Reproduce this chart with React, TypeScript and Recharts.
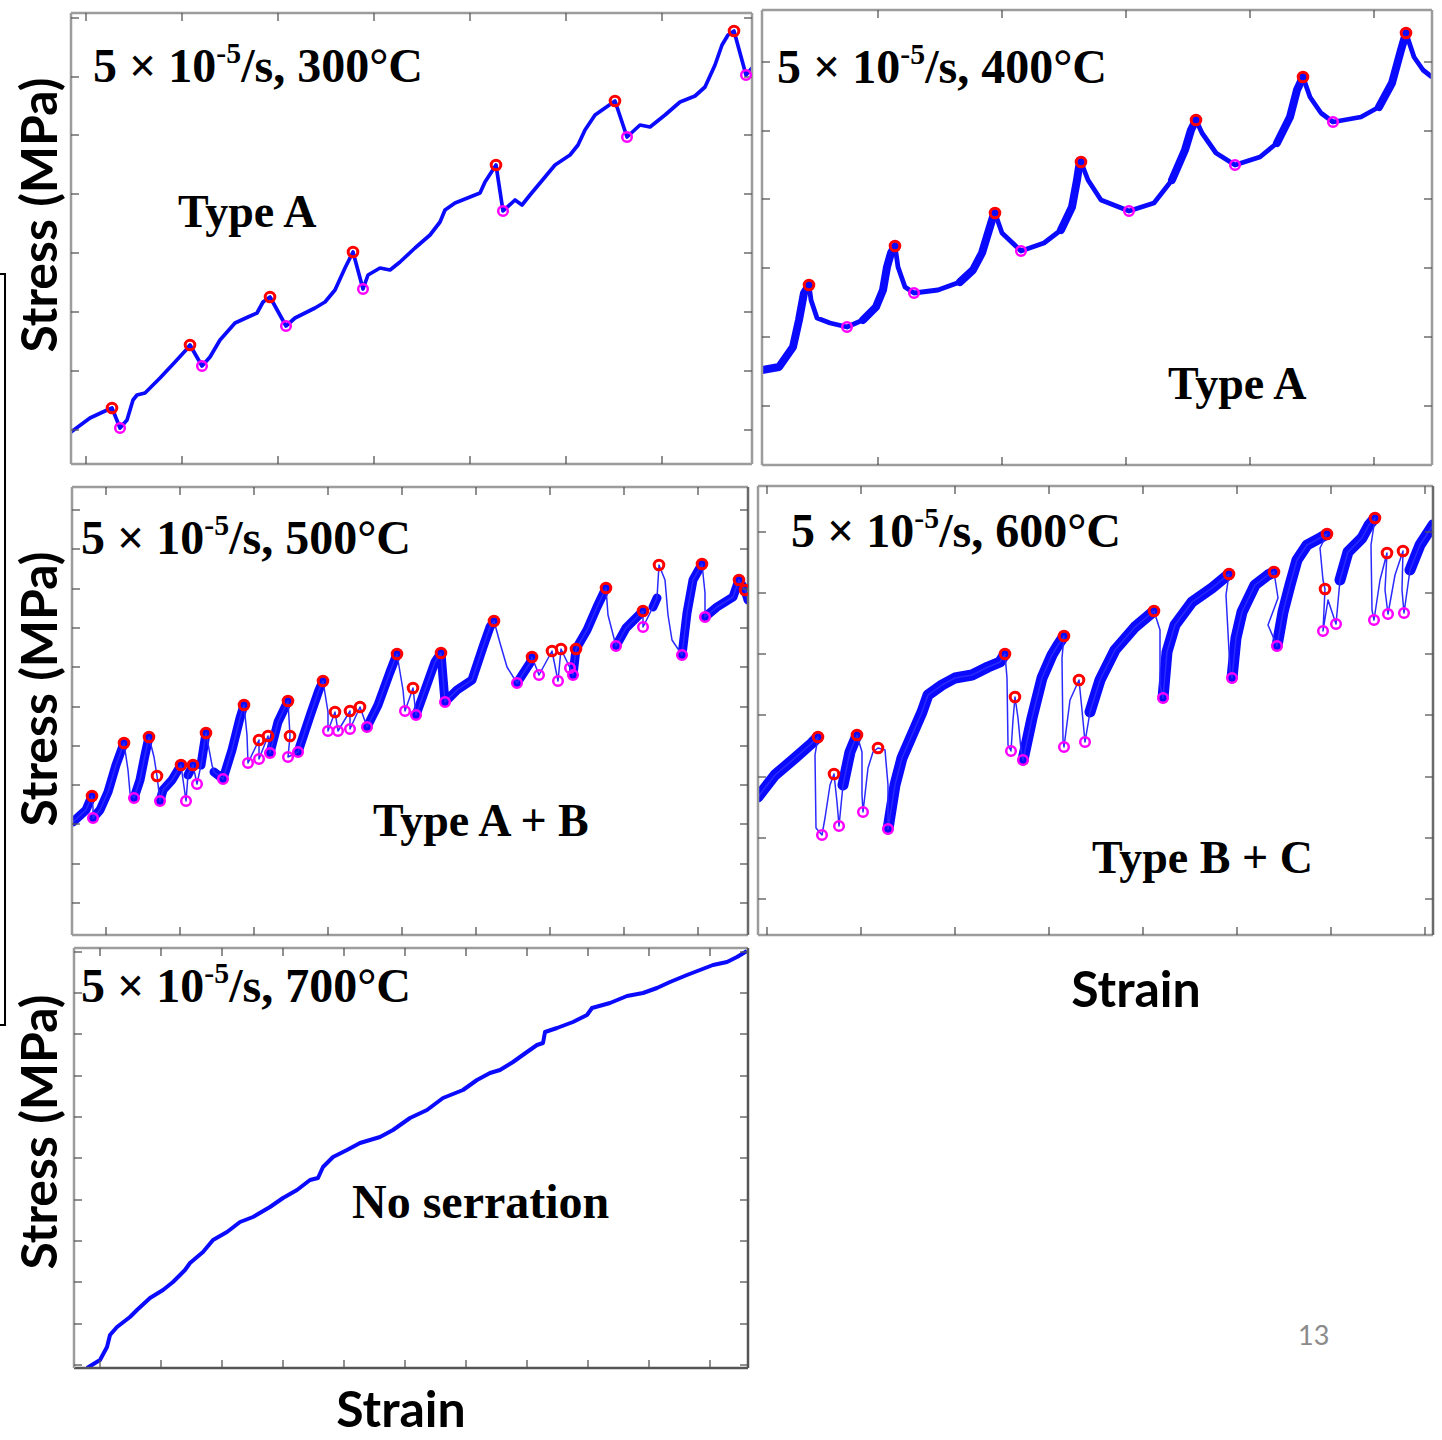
import React from "react";
import { ComposedChart, Line, Scatter, XAxis, YAxis } from "recharts";

type Pt = [number, number, string];

// strain (%), stress (MPa), flags: b = dense noisy band, p = serration peak, v = serration valley
const CURVE_300: Pt[] = [
  [0, 32, ""], [0.95, 46, ""], [1.7, 53, ""], [2.05, 56, "p"], [2.45, 36, "v"], [2.8, 44, ""],
  [3.1, 64, ""], [3.3, 69, ""], [3.7, 71, ""], [4.45, 86, ""], [5.2, 102, ""], [5.75, 114, ""],
  [5.95, 119, "p"], [6.55, 98, "v"], [6.95, 107, ""], [7.45, 124, ""], [8.2, 141, ""], [8.85, 147, ""],
  [9.3, 151, ""], [9.6, 162, ""], [9.95, 167, "p"], [10.75, 138, "v"], [11.2, 146, ""], [12.2, 156, ""],
  [12.7, 162, ""], [13.2, 174, ""], [13.7, 196, ""], [14.1, 212, "p"], [14.6, 175, "v"], [14.85, 189, ""],
  [15.45, 196, ""], [15.95, 194, ""], [16.45, 202, ""], [17.2, 216, ""], [17.95, 229, ""], [18.45, 242, ""],
  [18.7, 254, ""], [19.2, 261, ""], [19.95, 267, ""], [20.45, 271, ""], [20.7, 282, ""], [21.25, 299, "p"],
  [21.6, 253, "v"], [22.2, 264, ""], [22.55, 259, ""], [22.95, 269, ""], [23.7, 287, ""], [24.2, 299, ""],
  [24.95, 309, ""], [25.35, 319, ""], [25.7, 334, ""], [26.2, 349, ""], [26.7, 356, ""], [27.2, 363, "p"],
  [27.8, 327, "v"], [28.45, 339, ""], [28.95, 337, ""], [29.7, 349, ""], [30.45, 362, ""], [31.2, 368, ""],
  [31.7, 377, ""], [32.2, 399, ""], [32.55, 419, ""], [32.85, 429, ""], [33.15, 433, "p"], [33.75, 389, "v"],
  [34.05, 396, ""],
];

const CURVE_400: Pt[] = [
  [0, 95, "b"], [0.85, 98, "b"], [1.55, 118, "b"], [1.85, 145, "b"], [2.1, 172, "b"], [2.35, 180, "bp"],
  [2.45, 165, ""], [2.75, 147, ""], [3.4, 142, ""], [4.25, 138, "v"], [5.05, 145, "b"], [5.7, 158, "b"],
  [6.05, 175, "b"], [6.25, 198, "b"], [6.45, 212, "b"], [6.65, 219, "bp"], [6.8, 198, ""], [7.15, 178, ""],
  [7.6, 172, "v"], [8.8, 175, ""], [9.9, 183, "b"], [10.55, 195, "b"], [11.0, 212, "b"], [11.35, 235, "b"],
  [11.55, 248, "b"], [11.65, 252, "bp"], [12.0, 232, ""], [12.95, 214, "v"], [14.1, 222, ""], [14.95, 235, "b"],
  [15.5, 258, "b"], [15.75, 285, "b"], [15.85, 298, "b"], [15.95, 303, "bp"], [16.3, 285, ""], [16.95, 265, ""],
  [18.35, 254, "v"], [19.6, 262, ""], [20.5, 285, "b"], [21.15, 315, "b"], [21.45, 335, "b"], [21.7, 345, "bp"],
  [22.0, 332, ""], [22.7, 312, ""], [23.65, 300, "v"], [24.9, 308, ""], [25.75, 322, "b"], [26.4, 348, "b"],
  [26.75, 375, "b"], [27.05, 388, "bp"], [27.4, 368, ""], [27.95, 352, ""], [28.55, 343, "v"], [29.95, 348, ""],
  [30.85, 358, "b"], [31.5, 382, "b"], [31.95, 415, "b"], [32.2, 432, "bp"], [32.6, 408, ""], [33.05, 395, ""],
  [33.5, 388, ""],
];

const CURVE_500: Pt[] = [
  [0.05, 113, "b"], [0.7, 125, "b"], [1.0, 139, "bp"], [1.05, 127, ""], [1.05, 117, "bv"], [1.4, 125, "b"],
  [1.8, 143, "b"], [2.2, 170, "b"], [2.6, 192, "bp"], [2.8, 165, ""], [2.9, 142, ""], [3.1, 137, "bv"],
  [3.4, 155, "b"], [3.65, 180, "b"], [3.85, 198, "bp"], [4.1, 178, ""], [4.25, 159, "p"], [4.4, 134, "bv"],
  [4.55, 145, "b"], [5.0, 155, "b"], [5.45, 170, "bp"], [5.7, 134, "v"], [5.8, 160, "b"], [6.05, 170, "bp"],
  [6.25, 151, "v"], [6.45, 170, "b"], [6.7, 202, "bp"], [7.0, 170, ""], [7.1, 163, "b"], [7.55, 156, "bv"],
  [8.0, 185, "b"], [8.4, 217, "b"], [8.6, 230, "bp"], [8.75, 200, ""], [8.8, 172, "v"], [9.35, 195, "p"],
  [9.35, 176, "v"], [9.8, 199, "p"], [9.9, 182, "bv"], [10.3, 213, "b"], [10.8, 234, "bp"], [10.9, 199, "p"],
  [10.8, 178, "v"], [11.3, 183, "bv"], [11.95, 222, "b"], [12.35, 245, "b"], [12.55, 254, "bp"], [12.8, 223, ""],
  [12.8, 204, "v"], [13.15, 223, "p"], [13.3, 204, "v"], [13.9, 224, "p"], [13.9, 206, "v"], [14.4, 228, "p"],
  [14.75, 208, "bv"], [15.3, 230, "b"], [15.9, 263, "b"], [16.25, 281, "bp"], [16.55, 245, ""], [16.65, 224, "v"],
  [17.05, 247, "p"], [17.2, 220, "bv"], [17.65, 245, "b"], [18.15, 273, "b"], [18.45, 282, "bp"], [18.65, 233, "bv"],
  [19.25, 245, "b"], [20.0, 255, "b"], [20.55, 288, "b"], [20.9, 308, "b"], [21.1, 314, "bp"], [21.4, 292, ""],
  [21.75, 268, ""], [22.25, 252, "bv"], [22.9, 272, "b"], [23.0, 278, "bp"], [23.35, 260, "v"], [24.0, 284, "p"],
  [24.3, 254, "v"], [24.45, 286, "p"], [24.9, 267, "v"], [25.05, 260, "bv"], [25.2, 286, "bp"], [25.75, 305, "b"],
  [26.25, 328, "b"], [26.7, 347, "bp"], [26.8, 320, ""], [27.2, 289, "bv"], [27.7, 307, "b"], [28.55, 324, "bp"],
  [28.55, 308, "v"], [29.05, 328, "b"], [29.25, 337, "b"], [29.35, 370, "p"], [29.65, 355, ""], [29.8, 320, ""],
  [30.0, 295, ""], [30.5, 280, "bv"], [30.75, 322, "b"], [31.05, 355, "b"], [31.5, 371, "bp"], [31.65, 342, ""],
  [31.65, 318, "bv"], [32.25, 328, "b"], [33.05, 338, "b"], [33.35, 355, "bp"], [33.65, 345, "bp"], [33.8, 335, "b"],
];

const CURVE_600: Pt[] = [
  [0, 138, "b"], [0.85, 160, "b"], [1.85, 177, "b"], [2.7, 192, "b"], [3.0, 198, "bp"], [2.85, 180, ""],
  [2.9, 107, ""], [3.2, 100, "v"], [3.35, 117, ""], [3.6, 150, ""], [3.8, 161, "p"], [3.95, 133, ""],
  [4.05, 109, "v"], [4.25, 150, "b"], [4.6, 183, "b"], [4.95, 200, "bp"], [5.2, 183, ""], [5.2, 140, ""],
  [5.25, 123, "v"], [5.5, 167, ""], [5.75, 183, ""], [6.0, 187, "p"], [6.35, 185, ""], [6.5, 150, ""],
  [6.5, 106, "bv"], [6.85, 150, "b"], [7.2, 177, "b"], [7.7, 200, "b"], [8.2, 223, "b"], [8.5, 240, "b"],
  [9.2, 250, "b"], [9.85, 257, "b"], [10.7, 260, "b"], [11.5, 268, "b"], [12.1, 273, "b"], [12.35, 281, "bp"],
  [12.45, 257, ""], [12.5, 190, ""], [12.65, 184, "v"], [12.75, 215, ""], [12.85, 238, "p"], [13.0, 217, ""],
  [13.15, 185, ""], [13.25, 175, "bv"], [13.7, 217, "b"], [14.2, 257, "b"], [14.7, 280, "b"], [15.0, 290, "b"],
  [15.3, 299, "bp"], [15.2, 277, ""], [15.25, 195, ""], [15.3, 188, "v"], [15.6, 235, ""], [16.05, 255, "p"],
  [16.2, 225, ""], [16.35, 193, "v"], [16.6, 223, "b"], [17.1, 255, "b"], [17.85, 285, "b"], [18.85, 308, "b"],
  [19.8, 324, "bp"], [20.1, 305, ""], [20.1, 250, ""], [20.25, 237, "bv"], [20.45, 283, "b"], [20.85, 310, "b"],
  [21.7, 333, "b"], [22.7, 347, "b"], [23.55, 361, "bp"], [23.4, 340, ""], [23.6, 265, ""], [23.7, 257, "bv"],
  [23.9, 297, "b"], [24.2, 323, "b"], [24.85, 350, "b"], [25.5, 360, "b"], [25.8, 363, "bp"], [26.0, 337, ""],
  [25.5, 310, ""], [25.95, 289, "bv"], [26.25, 323, "b"], [26.6, 350, "b"], [26.95, 375, "b"], [27.45, 390, "b"],
  [28.1, 397, "b"], [28.45, 401, "bp"], [28.1, 387, ""], [28.25, 355, ""], [28.35, 346, "p"], [28.3, 325, ""],
  [28.25, 304, "v"], [28.5, 335, ""], [28.75, 320, ""], [28.9, 311, "v"], [29.1, 355, "b"], [29.5, 383, "b"],
  [30.2, 397, "b"], [30.55, 410, "b"], [30.85, 417, "bp"], [30.65, 390, ""], [30.7, 325, ""], [30.8, 315, "v"],
  [31.1, 355, ""], [31.45, 382, "p"], [31.35, 345, ""], [31.5, 321, "v"], [31.85, 360, ""], [32.25, 384, "p"],
  [32.2, 345, ""], [32.3, 322, "v"], [32.6, 365, "b"], [33.1, 390, "b"], [33.75, 410, "b"],
];

const CURVE_700: Pt[] = [
  [0.65, 0, ""], [1.3, 8, ""], [1.65, 21, ""], [1.8, 33, ""], [2.15, 41, ""], [2.8, 51, ""], [3.15, 58, ""],
  [3.8, 70, ""], [4.45, 78, ""], [4.95, 86, ""], [5.55, 98, ""], [5.8, 105, ""], [6.45, 116, ""], [6.95, 128, ""],
  [7.65, 136, ""], [8.3, 146, ""], [8.95, 151, ""], [9.8, 161, ""], [10.45, 170, ""], [11.15, 178, ""],
  [11.8, 188, ""], [12.2, 190, ""], [12.45, 201, ""], [12.95, 211, ""], [13.65, 218, ""], [14.3, 225, ""],
  [15.3, 231, ""], [15.95, 238, ""], [16.8, 250, ""], [17.65, 258, ""], [18.45, 270, ""], [19.45, 278, ""],
  [20.15, 288, ""], [20.8, 295, ""], [21.3, 298, ""], [21.95, 306, ""], [22.65, 316, ""], [23.15, 323, ""],
  [23.45, 325, ""], [23.55, 336, ""], [24.15, 340, ""], [24.95, 346, ""], [25.65, 353, ""], [25.9, 360, ""],
  [26.8, 365, ""], [27.65, 372, ""], [28.45, 375, ""], [29.15, 380, ""], [29.8, 386, ""], [30.65, 393, ""],
  [31.3, 398, ""], [31.95, 403, ""], [32.65, 406, ""], [33.15, 411, ""], [33.65, 417, ""],
];

// unlabeled tick positions (strain / stress)
const X_TICKS_300 = [0.75, 5.55, 10.35, 15.15, 19.95, 24.75, 29.55];
const Y_TICKS_300 = [34, 93, 152, 211, 270, 329, 387, 446];
const X_TICKS_400 = [5.8, 12.0, 18.2, 24.4, 30.6];
const Y_TICKS_400 = [59, 128, 197, 266, 334, 403];
const X_TICKS_500 = [1.7, 5.4, 9.1, 12.8, 16.5, 20.2, 23.9, 27.6, 31.3];
const Y_TICKS_500 = [32, 71, 111, 150, 189, 228, 268, 307, 346, 386, 425];
const X_TICKS_600 = [0.45, 5.15, 9.85, 14.55, 19.25, 23.95, 28.65, 33.35];
const Y_TICKS_600 = [36, 97, 158, 220, 281, 342, 403];
const X_TICKS_700 = [1.3, 4.35, 7.4, 10.45, 13.5, 16.55, 19.6, 22.65, 25.7, 28.75, 31.8];
const Y_TICKS_700 = [3, 44, 86, 127, 168, 210, 251, 292, 334, 375, 416];

const TEMPS = ["300", "400", "500", "600", "700"];
const TYPES = ["Type A", "Type A", "Type A + B", "Type B + C", "No serration"];

const SERIF = '"Liberation Serif", "Times New Roman", Times, serif';
const SANS = 'Lato, "Open Sans", sans-serif';
const LIGHT = "#9c9c9c";
const DARK = "#555";

const PANELS = [
  { left: 71, top: 13, w: 681, h: 451, xDomain: [0, 34.05], yDomain: [0, 451], curve: CURVE_300, xTicks: X_TICKS_300, yTicks: Y_TICKS_300, line: 3.7, band: 0, edge: { l: LIGHT, t: LIGHT, r: LIGHT, b: LIGHT }, title: [93, 82], type: [178, 228, 46] },
  { left: 762, top: 10, w: 670, h: 455, xDomain: [0, 33.5], yDomain: [0, 455], curve: CURVE_400, xTicks: X_TICKS_400, yTicks: Y_TICKS_400, line: 4.8, band: 8, edge: { l: LIGHT, t: LIGHT, r: LIGHT, b: LIGHT }, title: [777, 83], type: [1168, 400, 46] },
  { left: 72, top: 487, w: 676, h: 448, xDomain: [0, 33.8], yDomain: [0, 448], curve: CURVE_500, xTicks: X_TICKS_500, yTicks: Y_TICKS_500, line: 1.5, band: 9, edge: { l: LIGHT, t: LIGHT, r: "#6a6a6a", b: LIGHT }, title: [81, 554], type: [373, 837, 46] },
  { left: 758, top: 486, w: 675, h: 449, xDomain: [0, 33.75], yDomain: [0, 449], curve: CURVE_600, xTicks: X_TICKS_600, yTicks: Y_TICKS_600, line: 1.5, band: 11, edge: { l: LIGHT, t: LIGHT, r: "#6a6a6a", b: LIGHT }, title: [791, 547], type: [1092, 874, 46] },
  { left: 74, top: 948, w: 674, h: 420, xDomain: [0, 33.7], yDomain: [0, 420], curve: CURVE_700, xTicks: X_TICKS_700, yTicks: Y_TICKS_700, line: 4, band: 0, edge: { l: LIGHT, t: LIGHT, r: DARK, b: DARK }, title: [81, 1002], type: [352, 1218, 48] },
];

const ring = (color: string, width: number) => (props: any) =>
  props.cx == null ? <g /> : (
    <circle cx={props.cx} cy={props.cy} r={4.8} fill="none" stroke={color} strokeWidth={width} />
  );

function Panel({ cfg }: { cfg: any }) {
  const m = 3;
  const rows = cfg.curve.map(([x, y, f]: Pt) => ({ x, y, yb: f.includes("b") ? y : null }));
  const peaks = cfg.curve.filter((p: Pt) => p[2].includes("p")).map(([x, y]: Pt) => ({ x, y }));
  const valleys = cfg.curve.filter((p: Pt) => p[2].includes("v")).map(([x, y]: Pt) => ({ x, y }));
  const common = {
    type: "number" as const,
    allowDataOverflow: true,
    mirror: true,
    tickSize: 8,
    interval: 0 as const,
    tickFormatter: () => "",
    tickLine: { stroke: "#555", strokeWidth: 1.3 },
  };
  return (
    <div style={{ position: "absolute", left: cfg.left - m, top: cfg.top - m }}>
      <ComposedChart width={cfg.w + 2 * m} height={cfg.h + 2 * m} data={rows} margin={{ top: m, right: m, bottom: m, left: m }}>
        <XAxis xAxisId="b" dataKey="x" orientation="bottom" domain={cfg.xDomain} ticks={cfg.xTicks} axisLine={{ stroke: cfg.edge.b, strokeWidth: 2.5 }} {...common} />
        <XAxis xAxisId="t" dataKey="x" orientation="top" domain={cfg.xDomain} ticks={cfg.xTicks} axisLine={{ stroke: cfg.edge.t, strokeWidth: 2.5 }} {...common} />
        <YAxis yAxisId="l" dataKey="y" orientation="left" domain={cfg.yDomain} ticks={cfg.yTicks} axisLine={{ stroke: cfg.edge.l, strokeWidth: 2.5 }} {...common} />
        <YAxis yAxisId="r" dataKey="y" orientation="right" domain={cfg.yDomain} ticks={cfg.yTicks} axisLine={{ stroke: cfg.edge.r, strokeWidth: 2.5 }} {...common} />
        {cfg.band > 0 && (
          <Line xAxisId="b" yAxisId="l" dataKey="yb" stroke="#0a0aff" strokeWidth={cfg.band} dot={false} strokeLinejoin="round" strokeLinecap="round" isAnimationActive={false} />
        )}
        <Line xAxisId="b" yAxisId="l" dataKey="y" stroke={cfg.band > 0 && cfg.line < 2 ? "#2a2aff" : "#0a0aff"} strokeWidth={cfg.line} dot={false} strokeLinejoin="round" isAnimationActive={false} />
        {peaks.length > 0 && (
          <Scatter xAxisId="b" yAxisId="l" data={peaks} dataKey="y" shape={ring("#ff0000", 3)} isAnimationActive={false} />
        )}
        {valleys.length > 0 && (
          <Scatter xAxisId="b" yAxisId="l" data={valleys} dataKey="y" shape={ring("#ff00ff", 2.5)} isAnimationActive={false} />
        )}
      </ComposedChart>
    </div>
  );
}

const abs = (s: React.CSSProperties): React.CSSProperties => ({ position: "absolute", whiteSpace: "nowrap", ...s });

export default function App() {
  return (
    <div style={{ position: "absolute", left: 0, top: 0, width: 1442, height: 1440, background: "#fff", overflow: "hidden" }}>
      {PANELS.map((p, i) => (
        <Panel key={i} cfg={p} />
      ))}

      {PANELS.map((p, i) => (
        <div key={"t" + i} style={abs({ left: p.title[0], top: p.title[1] - 40, font: `bold 48px ${SERIF}`, lineHeight: "48px", color: "#000" })}>
          5 × 10<span style={{ fontSize: "0.62em", position: "relative", top: -19 }}>-5</span>/s, {TEMPS[i]}°C
        </div>
      ))}

      {PANELS.map((p, i) => (
        <div key={"y" + i} style={abs({ left: p.type[0], top: p.type[1] - p.type[2] * 0.84, font: `bold ${p.type[2]}px ${SERIF}`, lineHeight: `${p.type[2]}px`, color: "#000" })}>
          {TYPES[i]}
        </div>
      ))}

      {[215, 689, 1132].map((cy, i) => (
        <div key={"s" + i} style={abs({ left: 38, top: cy, transform: "translate(-50%, -50%) rotate(-90deg)", font: `bold 50px ${SANS}`, lineHeight: "60px", color: "#000" })}>
          Stress (MPa)
        </div>
      ))}

      <div style={abs({ left: 1136, top: 958, transform: "translateX(-50%)", font: `bold 50px ${SANS}`, lineHeight: "60px", color: "#000" })}>Strain</div>
      <div style={abs({ left: 401, top: 1378, transform: "translateX(-50%)", font: `bold 50px ${SANS}`, lineHeight: "60px", color: "#000" })}>Strain</div>
      <div style={abs({ left: 1298, top: 1319, font: `27px ${SANS}`, lineHeight: "32px", color: "#8a8a8a" })}>13</div>

      <div style={abs({ left: 4, top: 273, width: 2, height: 753, background: "#000" })} />
      <div style={abs({ left: 0, top: 273, width: 6, height: 2, background: "#000" })} />
      <div style={abs({ left: 0, top: 1024, width: 6, height: 2, background: "#000" })} />
    </div>
  );
}
